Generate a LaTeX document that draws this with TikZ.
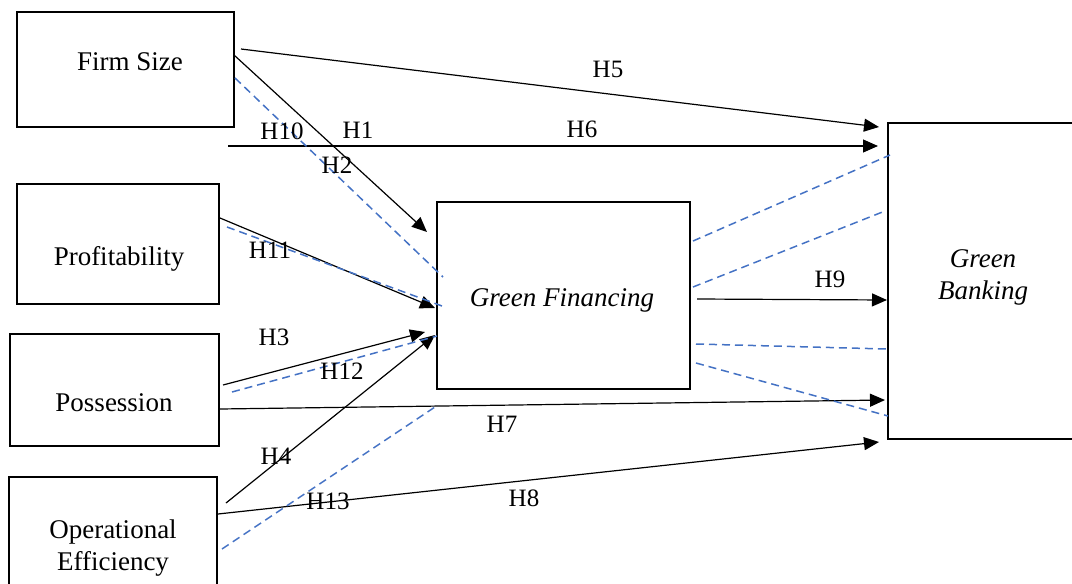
\documentclass[tikz,border=0pt]{standalone}
\usepackage{fontspec}
\setmainfont{Liberation Serif}
\usetikzlibrary{arrows.meta,calc}
\definecolor{dashblue}{HTML}{4472C4}
\begin{document}
\begin{tikzpicture}[x=1pt,y=-1pt,
  box/.style={draw,line width=2.7pt,outer sep=0pt,inner sep=0pt},
  boxtext/.style={anchor=base,inner sep=0pt,font=\fontsize{27}{32}\selectfont,align=center},
  hlabel/.style={anchor=base,inner sep=0pt,font=\fontsize{25}{30}\selectfont},
  arr/.style={line width=1.2pt,-{Triangle[length=15pt,width=13pt]}},
  dline/.style={line width=1.5pt,draw=dashblue,dash pattern=on 8pt off 5pt}]
\useasboundingbox (0,0) rectangle (1072,584);
\clip (0,0) rectangle (1072,584);
% boxes
\node[box,minimum width=217pt,minimum height=115pt] (fs) at (125.5,69.5) {};
\node[box,minimum width=202pt,minimum height=120pt] (pr) at (118,244) {};
\node[box,minimum width=209pt,minimum height=112pt] (po) at (114.5,390) {};
\node[box,minimum width=208pt,minimum height=123pt] (oe) at (113,538.5) {};
\node[box,minimum width=253pt,minimum height=187pt] (gf) at (563.5,295.5) {};
\node[box,minimum width=202pt,minimum height=316pt] (gb) at (989,281) {};
% box texts (base anchor = baseline of the last line)
\node[boxtext] (fst) at (130,70) {Firm Size};
\node[boxtext] (prt) at (119,265) {Profitability};
\node[boxtext] (pot) at (114,411) {Possession};
\node[boxtext] (oet) at (113,570) {Operational\\Efficiency};
\node[boxtext] (gft) at (562,306) {\itshape Green Financing};
\node[boxtext] (gbt) at (983,299) {\itshape Green\\\itshape Banking};
% solid arrows
\draw[arr] ($(fs.north east)+(7,37)$) -- ($(gb.north west)+(-9,4)$);
\draw[arr] ($(fs.north east)+(-6,134)$) -- ($(gb.north west)+(-10,23)$);
\draw[arr] ($(fs.north east)+(0,43)$) -- ($(gf.north west)+(-10,30)$);
\draw[arr] ($(pr.north east)+(1,34)$) -- ($(gf.north west)+(-2,106)$);
\draw[arr] ($(po.north east)+(4,51)$) -- ($(gf.north west)+(-12,130)$);
\draw[arr] ($(oe.north east)+(9,26)$) -- ($(gf.north west)+(-2,133)$);
\draw[arr] ($(po.north east)+(1,75)$) -- ($(gb.north west)+(-3,277)$);
\draw[arr] ($(oe.north east)+(1,37)$) -- ($(gb.north west)+(-9,319)$);
\draw[arr] ($(gf.north east)+(7,97)$) -- ($(gb.north west)+(-1,177)$);
% dashed lines
\draw[dline] ($(fs.north east)+(1,66)$) -- ($(gf.north west)+(6,75)$);
\draw[dline] ($(pr.north east)+(8,43)$) -- ($(gf.north west)+(5,104)$);
\draw[dline] ($(po.north east)+(13,58)$) -- ($(gf.north west)+(0,134)$);
\draw[dline] ($(oe.north east)+(5,72)$) -- ($(gf.north west)+(1,203)$);
\draw[dline] ($(gf.north east)+(3,39)$) -- ($(gb.north west)+(2,32)$);
\draw[dline] ($(gf.north east)+(3,85)$) -- ($(gb.north west)+(-3,88)$);
\draw[dline] ($(gf.north east)+(6,142)$) -- ($(gb.north west)+(-1,226)$);
\draw[dline] ($(gf.north east)+(6,161)$) -- ($(gb.north west)+(0,293)$);
% hypothesis labels
\node[hlabel] (h5) at (608,77) {H5};
\node[hlabel] (h6) at (582,137) {H6};
\node[hlabel] (h10) at (282,139) {H10};
\node[hlabel] (h1) at (358,138) {H1};
\node[hlabel] (h2) at (337,173) {H2};
\node[hlabel] (h11) at (270,258) {H11};
\node[hlabel] (h3) at (274,345) {H3};
\node[hlabel] (h12) at (342,379) {H12};
\node[hlabel] (h4) at (276,464) {H4};
\node[hlabel] (h13) at (328,509) {H13};
\node[hlabel] (h7) at (502,432) {H7};
\node[hlabel] (h8) at (524,506) {H8};
\node[hlabel] (h9) at (830,287) {H9};
\end{tikzpicture}
\end{document}
